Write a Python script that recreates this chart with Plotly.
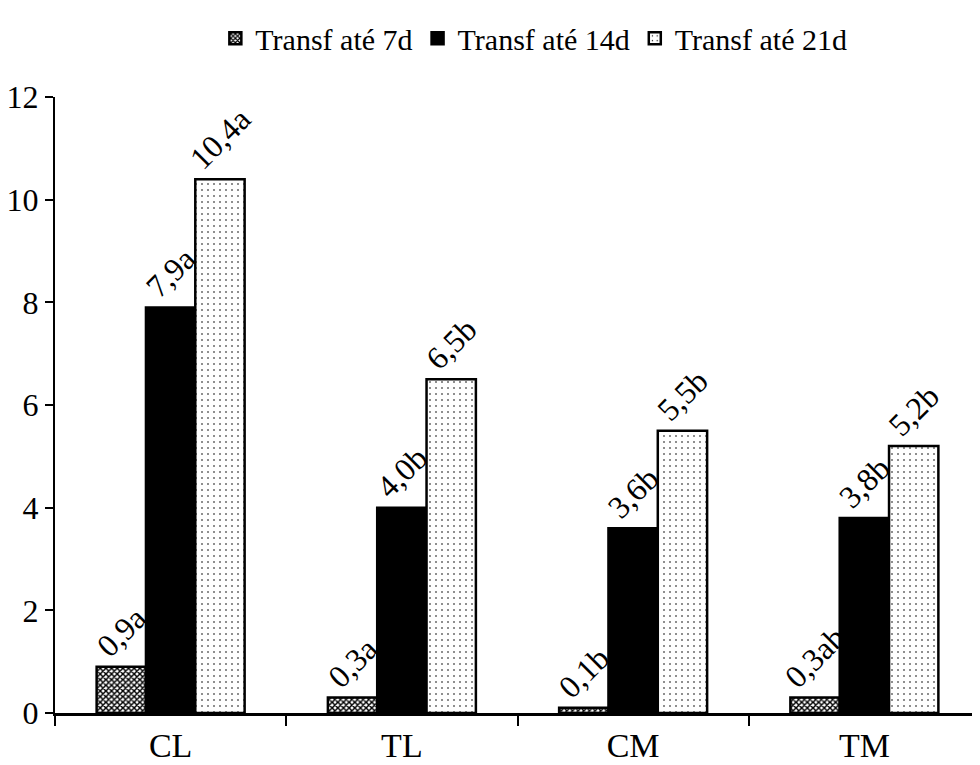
import plotly.graph_objects as go

categories = ["CL", "TL", "CM", "TM"]
series_names = ["Transf até 7d", "Transf até 14d", "Transf até 21d"]
v7 = [0.9, 0.3, 0.1, 0.3]
v14 = [7.9, 4.0, 3.6, 3.8]
v21 = [10.4, 6.5, 5.5, 5.2]
lab7 = ["0,9a", "0,3a", "0,1b", "0,3ab"]
lab14 = ["7,9a", "4,0b", "3,6b", "3,8b"]
lab21 = ["10,4a", "6,5b", "5,5b", "5,2b"]
y_ticks = [0, 2, 4, 6, 8, 10, 12]

FONT = "Liberation Serif, Times New Roman, serif"
FS = 30

styles = [
    dict(color="white", pattern=dict(shape="x", size=4, solidity=0.6, fgcolor="black", bgcolor="white", fillmode="replace")),
    dict(color="black"),
    dict(color="white", pattern=dict(shape=".", size=6, solidity=0.06, fgcolor="black", bgcolor="white", fillmode="replace")),
]

fig = go.Figure()
for name, vals, labs, st in zip(series_names, [v7, v14, v21], [lab7, lab14, lab21], styles):
    fig.add_trace(go.Bar(
        x=categories, y=vals, name=name, text=labs,
        textposition="outside", textangle=-45, cliponaxis=False, constraintext="none",
        textfont=dict(family=FONT, size=32, color="black"),
        marker=dict(line=dict(color="black", width=2.5), **st),
    ))

fig.update_layout(
    width=972, height=757,
    plot_bgcolor="white", paper_bgcolor="white",
    margin=dict(l=47, r=0, t=89, b=52),
    barmode="group", bargap=0.36, bargroupgap=0,
    font=dict(family=FONT, size=FS, color="black"),
    legend=dict(orientation="h", x=0.541, xanchor="center", xref="container",
                y=0.96, yanchor="middle", yref="container",
                font=dict(family=FONT, size=FS, color="black"),
                itemwidth=30, tracegroupgap=0),
    uniformtext=dict(mode=False),
)
fig.update_xaxes(showline=True, linecolor="black", linewidth=3, ticks="outside", tickson="boundaries",
                 ticklen=10, tickwidth=2, tickcolor="black", showgrid=False, zeroline=False,
                 tickfont=dict(family=FONT, size=34, color="black"))
fig.update_yaxes(range=[0, 12], tickvals=y_ticks, showline=True, linecolor="black", linewidth=2,
                 ticks="outside", ticklen=8, tickwidth=2, tickcolor="black", showgrid=False,
                 zeroline=False, tickfont=dict(family=FONT, size=32, color="black"))

fig.write_html("out.html")
